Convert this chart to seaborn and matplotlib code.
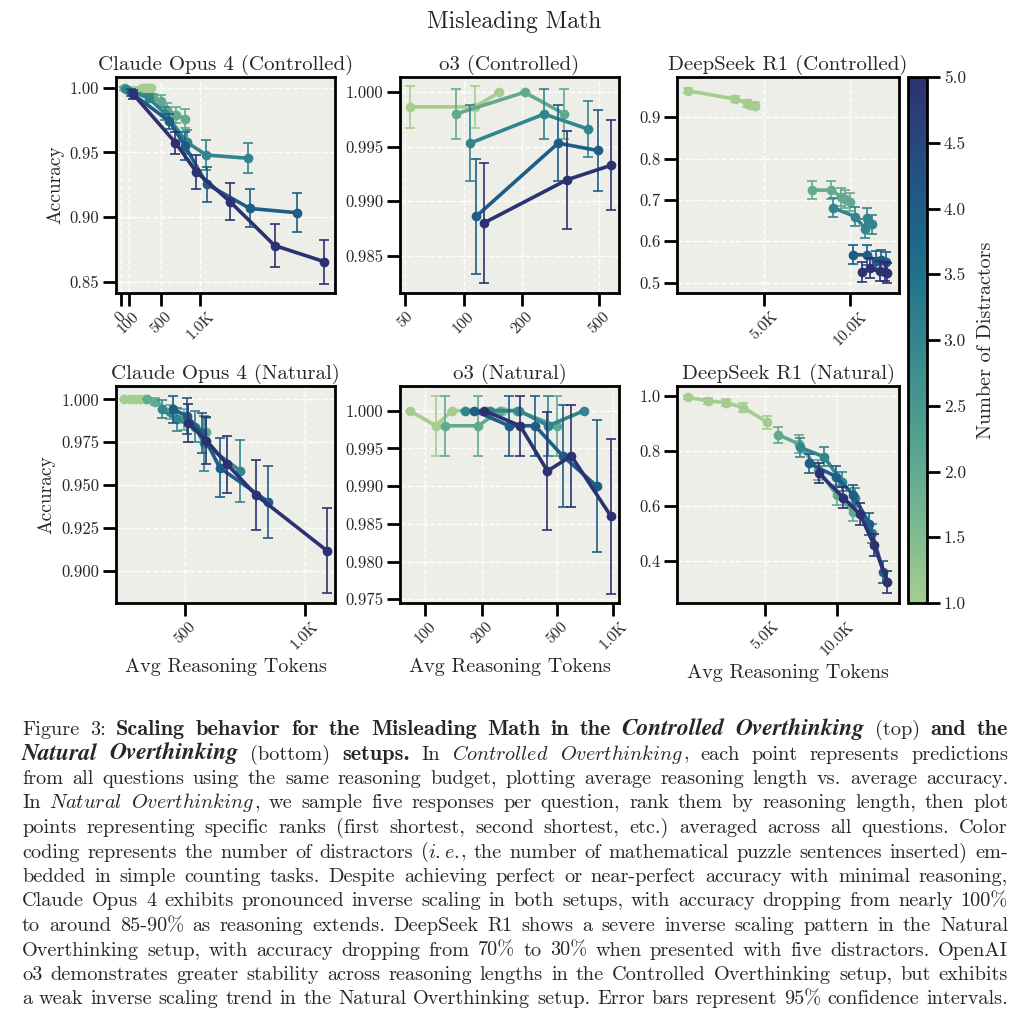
import numpy as np
import matplotlib
matplotlib.use("Agg")
import matplotlib.pyplot as plt
import matplotlib.ticker as mticker
import seaborn as sns

## data ---------------------------------------------------------------------
# each list holds 5 series: 1..5 distractors
claude_ctrl_tokens = [[55, 270, 300, 330, 355, 375],
                      [40, 400, 500, 580, 700, 810],
                      [70, 350, 560, 830, 1075, 1600],
                      [125, 612, 808, 1083, 1625, 2217],
                      [158, 688, 950, 1375, 1938, 2567]]
claude_ctrl_acc = [[1.0, 1.0, 1.0, 0.9995, 1.0, 0.9995],
                   [0.9995, 0.9925, 0.990, 0.983, 0.979, 0.976],
                   [0.999, 0.992, 0.980, 0.958, 0.948, 0.9455],
                   [0.9964, 0.974, 0.955, 0.9255, 0.9067, 0.9034],
                   [0.9948, 0.9575, 0.935, 0.912, 0.878, 0.8655]]
claude_ctrl_err = [[0.0005, 0.0005, 0.0005, 0.0008, 0.0005, 0.0008],
                   [0.001, 0.003, 0.004, 0.005, 0.006, 0.0075],
                   [0.001, 0.003, 0.005, 0.009, 0.0115, 0.0115],
                   [0.003, 0.006, 0.011, 0.0135, 0.0147, 0.015],
                   [0.0035, 0.0085, 0.013, 0.0145, 0.0165, 0.017]]

o3_ctrl_tokens = [[53, 114, 153],
                  [91, 206, 331],
                  [108, 260, 435],
                  [116, 307, 490],
                  [127, 341, 578]]
o3_ctrl_acc = [[0.99866, 0.99866, 1.0],
               [0.998, 1.0, 0.998],
               [0.99533, 0.998, 0.99664],
               [0.98861, 0.99533, 0.99466],
               [0.988, 0.99197, 0.99331]]
o3_ctrl_err = [[0.0019, 0.0019, 0.0],
               [0.0023, 0.0, 0.0023],
               [0.0035, 0.0023, 0.0026],
               [0.0053, 0.0035, 0.0037],
               [0.0055, 0.0045, 0.0041]]

ds_ctrl_tokens = [[2716, 3960, 4349, 4467, 4653],
                  [7345, 8600, 9300, 9600, 10000],
                  [8740, 10410, 11300, 11450, 11900],
                  [10225, 11445, 12300, 12800, 13365],
                  [10990, 11745, 12730, 13240, 13500]]
ds_ctrl_acc = [[0.964, 0.944, 0.934, 0.930, 0.9285],
               [0.724, 0.724, 0.708, 0.703, 0.695],
               [0.681, 0.660, 0.631, 0.657, 0.641],
               [0.568, 0.567, 0.553, 0.555, 0.551],
               [0.525, 0.535, 0.528, 0.527, 0.523]]
ds_ctrl_err = [[0.006, 0.008, 0.008, 0.008, 0.008],
               [0.022, 0.022, 0.022, 0.022, 0.022],
               [0.023, 0.023, 0.023, 0.023, 0.023],
               [0.024, 0.024, 0.024, 0.024, 0.024],
               [0.024, 0.024, 0.024, 0.024, 0.024]]

claude_nat_tokens = [[353, 364, 375, 386, 398],
                     [402, 422, 460, 497, 564],
                     [438, 478, 532, 558, 688],
                     [467, 507, 553, 612, 809],
                     [509, 567, 639, 754, 1134]]
claude_nat_acc = [[1.0, 1.0, 1.0, 1.0, 1.0],
                  [1.0, 0.9986, 0.9928, 0.9883, 0.9811],
                  [0.9942, 0.9883, 0.984, 0.9743, 0.9584],
                  [0.9942, 0.9903, 0.9802, 0.9601, 0.9403],
                  [0.9864, 0.9759, 0.9621, 0.9442, 0.9118]]
claude_nat_err = [[0.0, 0.0, 0.0, 0.0, 0.0],
                  [0.0, 0.002, 0.004, 0.006, 0.008],
                  [0.0053, 0.0068, 0.009, 0.0161, 0.018],
                  [0.0078, 0.0107, 0.0117, 0.0172, 0.021],
                  [0.011, 0.0136, 0.0167, 0.0204, 0.025]]

o3_nat_tokens = [[83, 114, 139, 213, 261],
                 [128, 192, 250, 307, 501],
                 [163, 222, 317, 452, 700],
                 [182, 280, 384, 539, 817],
                 [206, 320, 447, 599, 973]]
o3_nat_acc = [[1.0, 0.998, 1.0, 1.0, 1.0],
              [0.998, 0.998, 1.0, 1.0, 0.998],
              [1.0, 1.0, 1.0, 0.998, 1.0],
              [1.0, 0.998, 0.998, 0.994, 0.990],
              [1.0, 0.998, 0.992, 0.994, 0.986]]
o3_nat_err = [[0.0, 0.004, 0.0, 0.0, 0.0],
              [0.004, 0.004, 0.0, 0.0, 0.004],
              [0.0, 0.0, 0.0, 0.004, 0.0],
              [0.0, 0.004, 0.004, 0.0068, 0.0087],
              [0.0, 0.004, 0.0078, 0.0068, 0.0103]]

ds_nat_tokens = [[2360, 2881, 3417, 4042, 5097],
                 [5671, 6944, 8350, 9970, 11710],
                 [6990, 8817, 10460, 11940, 13980],
                 [7651, 9906, 11710, 13670, 15650],
                 [8404, 10630, 12490, 14300, 16270]]
ds_nat_acc = [[0.995, 0.982, 0.976, 0.958, 0.904],
              [0.859, 0.825, 0.731, 0.640, 0.579],
              [0.813, 0.779, 0.689, 0.630, 0.501],
              [0.755, 0.707, 0.640, 0.535, 0.361],
              [0.719, 0.630, 0.570, 0.458, 0.325]]
ds_nat_err = [[0.005, 0.010, 0.012, 0.015, 0.025],
              [0.030, 0.033, 0.035, 0.035, 0.035],
              [0.035, 0.035, 0.035, 0.035, 0.035],
              [0.035, 0.037, 0.038, 0.040, 0.040],
              [0.036, 0.038, 0.040, 0.040, 0.040]]

## caption lines: (text, style)  r=roman b=bold i=italic bi=bold italic
caption = [
    [("Figure 3: ", "r"), ("Scaling behavior for the Misleading Math in the ", "b"),
     ("Controlled Overthinking", "bi"), (" (top) ", "r"), ("and the", "b")],
    [("Natural Overthinking", "bi"), (" (bottom) ", "r"), ("setups.", "b"), (" In ", "r"),
     ("Controlled Overthinking", "i"), (", each point represents predictions", "r")],
    [("from all questions using the same reasoning budget, plotting average reasoning length vs. average accuracy.", "r")],
    [("In ", "r"), ("Natural Overthinking", "i"),
     (", we sample five responses per question, rank them by reasoning length, then plot", "r")],
    [("points representing specific ranks (first shortest, second shortest, etc.) averaged across all questions. Color", "r")],
    [("coding represents the number of distractors (", "r"), ("i.e.", "i"),
     (", the number of mathematical puzzle sentences inserted) em-", "r")],
    [("bedded in simple counting tasks. Despite achieving perfect or near-perfect accuracy with minimal reasoning,", "r")],
    [("Claude Opus 4 exhibits pronounced inverse scaling in both setups, with accuracy dropping from nearly 100%", "r")],
    [("to around 85-90% as reasoning extends. DeepSeek R1 shows a severe inverse scaling pattern in the Natural", "r")],
    [("Overthinking setup, with accuracy dropping from 70% to 30% when presented with five distractors. OpenAI", "r")],
    [("o3 demonstrates greater stability across reasoning lengths in the Controlled Overthinking setup, but exhibits", "r")],
    [("a weak inverse scaling trend in the Natural Overthinking setup. Error bars represent 95% confidence intervals.", "r")],
]

## style ----------------------------------------------------------------------
sns.set_theme(style="ticks")
plt.rcParams['font.family'] = ['cmr10']
plt.rcParams['mathtext.fontset'] = 'cm'
plt.rcParams['axes.formatter.use_mathtext'] = True
plt.rcParams['axes.unicode_minus'] = False

cmap = sns.color_palette("crest", as_cmap=True)
norm = plt.Normalize(1, 5)
FACE = '#eeeee8'
W, H = 1028, 1024
LW = 2.0

fig = plt.figure(figsize=(W / 100, H / 100), dpi=100)


def px_axes(l, t, r, b):
    return fig.add_axes([l / W, 1 - b / H, (r - l) / W, (b - t) / H])


def draw_panel(ax, tokens, acc, err, title, xlog, xlim, xticks, xlabels,
               ylim, yticks, yfmt):
    ax.set_facecolor(FACE)
    if xlog:
        ax.set_xscale('log')
    for k in range(5):
        c = cmap(norm(k + 1))
        ax.errorbar(tokens[k], acc[k], yerr=err[k], fmt='none', ecolor=c,
                    elinewidth=1.2, capsize=3.6, capthick=1.2, zorder=2 + k)
        sns.lineplot(x=tokens[k], y=acc[k], color=c, marker='o', markersize=7,
                     markeredgewidth=0, linewidth=2.6, ax=ax, zorder=2.5 + k)
    ax.set_xlim(xlim)
    ax.set_ylim(ylim)
    ax.xaxis.set_major_locator(mticker.FixedLocator(xticks))
    ax.xaxis.set_major_formatter(mticker.FixedFormatter(xlabels))
    ax.xaxis.set_minor_locator(mticker.NullLocator())
    ax.yaxis.set_major_locator(mticker.FixedLocator(yticks))
    ax.yaxis.set_major_formatter(mticker.FormatStrFormatter(yfmt))
    ax.grid(True, color='white', linestyle='--', linewidth=1.0)
    for sp in ax.spines.values():
        sp.set_linewidth(LW)
        sp.set_color('black')
        sp.set_visible(True)
    ax.tick_params(width=LW, length=9.5, color='black', pad=2.5)
    ax.tick_params(axis='y', labelsize=12)
    ax.tick_params(axis='x', labelsize=11.5, labelrotation=45)
    ax.set_title(title, fontsize=15, pad=5)
    ax.set_xlabel("")
    ax.set_ylabel("")


cols = [(116, 335), (400, 619), (677, 899)]
rows = [(77, 293), (386, 603)]

ax1 = px_axes(cols[0][0], rows[0][0], cols[0][1], rows[0][1])
draw_panel(ax1, claude_ctrl_tokens, claude_ctrl_acc, claude_ctrl_err,
           "Claude Opus 4 (Controlled)", False, (-62, 2700), [0, 100, 500, 1000],
           ["0", "100", "500", "1.0K"], (0.8413, 1.0083), [0.85, 0.90, 0.95, 1.00], '%.2f')
ax2 = px_axes(cols[1][0], rows[0][0], cols[1][1], rows[0][1])
draw_panel(ax2, o3_ctrl_tokens, o3_ctrl_acc, o3_ctrl_err,
           "o3 (Controlled)", True, (47, 632), [50, 100, 200, 500],
           ["50", "100", "200", "500"], (0.98158, 1.0014),
           [0.985, 0.990, 0.995, 1.000], '%.3f')
ax3 = px_axes(cols[2][0], rows[0][0], cols[2][1], rows[0][1])
draw_panel(ax3, ds_ctrl_tokens, ds_ctrl_acc, ds_ctrl_err,
           "DeepSeek R1 (Controlled)", True, (2478, 14850), [5000, 10000],
           ["5.0K", "10.0K"], (0.475, 0.9975), [0.5, 0.6, 0.7, 0.8, 0.9], '%.1f')
ax4 = px_axes(cols[0][0], rows[1][0], cols[0][1], rows[1][1])
draw_panel(ax4, claude_nat_tokens, claude_nat_acc, claude_nat_err,
           "Claude Opus 4 (Natural)", True, (336.6, 1189), [500, 1000],
           ["500", "1.0K"], (0.8812, 1.0078),
           [0.900, 0.925, 0.950, 0.975, 1.000], '%.3f')
ax5 = px_axes(cols[1][0], rows[1][0], cols[1][1], rows[1][1])
draw_panel(ax5, o3_nat_tokens, o3_nat_acc, o3_nat_err,
           "o3 (Natural)", True, (73.6, 1073), [100, 200, 500, 1000],
           ["100", "200", "500", "1.0K"], (0.97451, 1.00327),
           [0.975, 0.980, 0.985, 0.990, 0.995, 1.000], '%.3f')
ax6 = px_axes(cols[2][0], rows[1][0], cols[2][1], rows[1][1])
draw_panel(ax6, ds_nat_tokens, ds_nat_acc, ds_nat_err,
           "DeepSeek R1 (Natural)", True, (2127, 18210), [5000, 10000],
           ["5.0K", "10.0K"], (0.2473, 1.0364), [0.4, 0.6, 0.8, 1.0], '%.1f')

for ax in (ax1, ax4):
    ax.set_ylabel("Accuracy", fontsize=14)
for ax in (ax4, ax5, ax6):
    ax.set_xlabel("Avg Reasoning Tokens", fontsize=14.5)

fig.text(0.5, 1 - 22 / H, "Misleading Math", ha='center', va='center', fontsize=17)

## colorbar
cax = px_axes(908, 77, 927, 603)
sm = plt.cm.ScalarMappable(norm=norm, cmap=cmap)
cb = fig.colorbar(sm, cax=cax, ticks=np.arange(1, 5.01, 0.5), format='%.1f')
cb.outline.set_linewidth(LW)
cb.outline.set_edgecolor('black')
cb.ax.tick_params(width=LW, length=9.5, labelsize=12.5, color='black', pad=2.5)
cb.set_label("Number of Distractors", fontsize=14.5, labelpad=8)

## caption, justified word by word
FS = 14.6
X0, X1 = 22, 1008
BASE0, STEP = 735, 24.5
renderer = fig.canvas.get_renderer()


def piece_text(s, style):
    if style == 'b':
        return fig.text(0, 0, s, fontsize=FS * 1.1, family='cmb10', va='baseline')
    if style == 'bi':
        return fig.text(0, 0, s, fontsize=FS * 1.16, family='STIXGeneral', weight='bold',
                        style='italic', va='baseline')
    if style == 'i':
        return fig.text(0, 0, r'$\mathit{' + s + '}$', fontsize=FS, va='baseline')
    return fig.text(0, 0, s, fontsize=FS, family='cmr10', va='baseline')


for li, segs in enumerate(caption):
    words = [[]]
    for txt, style in segs:
        parts = txt.split(' ')
        for k, p in enumerate(parts):
            if k > 0:
                words.append([])
            if p:
                words[-1].append((p, style))
    words = [w for w in words if w]
    objs, widths = [], []
    for w in words:
        row = []
        for p, style in w:
            t = piece_text(p, style)
            row.append((t, t.get_window_extent(renderer).width))
        objs.append(row)
        widths.append(sum(r[1] for r in row))
    gap = (X1 - X0 - sum(widths)) / (len(words) - 1)
    y = 1 - (BASE0 + li * STEP) / H
    x = X0
    for row, wsum in zip(objs, widths):
        xx = x
        for t, wd in row:
            t.set_position((xx / W, y))
            xx += wd
        x += wsum + gap

fig.savefig("out.png", dpi=100)
